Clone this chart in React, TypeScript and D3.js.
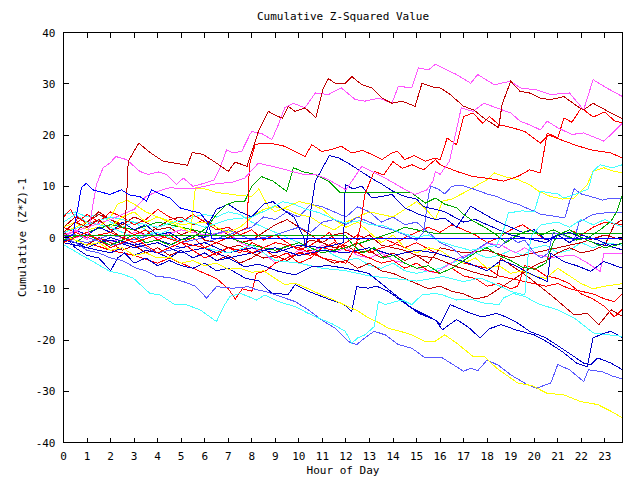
import React from 'react';
import * as d3 from 'd3';

type P = [number, number];

const title = 'Cumulative Z-Squared Value';
const xLabel = 'Hour of Day';
const yLabel = 'Cumulative (Z*Z)-1';
const xTicks: number[] = d3.range(0, 24);
const yTicks: number[] = [-40, -30, -20, -10, 0, 10, 20, 30, 40];

const darkRedTop: P[] = [[0,1],[0.5,3],[1,2],[1.5,3.5],[2,1.5],[2.6,-0.4],[2.75,14.9],[3.2,18.4],[3.7,16.5],[4.23,14.9],[4.73,14.5],[5.27,14.1],[5.47,16.6],[5.94,16.2],[6.5,14.5],[7.0,12.9],[7.29,14.7],[7.8,13.9],[8.28,20.7],[8.7,24.6],[9.13,23.6],[9.3,23.3],[9.55,25.6],[9.84,24.6],[10.26,25.3],[10.72,23.4],[11.04,29.2],[11.26,31],[11.54,30.1],[11.97,30.1],[12.25,31.4],[12.68,29.8],[13.1,29.2],[13.53,27.2],[13.95,26.2],[14.38,26.6],[14.94,25.6],[15.23,30.1],[15.8,29.2],[16.0,29.2],[16.43,27.9],[17.0,25.6],[17.43,24.9],[17.86,23.3],[18.49,21.4],[18.63,25.9],[19.0,30.5],[19.4,28.5],[19.8,28.2],[20.26,27.2],[20.7,26.9],[21.26,27.5],[21.83,25.6],[22.1,24.9],[22.5,26.2],[23.26,24.3],[23.75,23.2]];
const magentaTop: P[] = [[0,0],[0.5,1.5],[1.0,-0.5],[1.25,6.4],[1.4,10.3],[1.68,13.6],[1.97,14.5],[2.22,15.8],[2.68,15.2],[3.24,12.9],[3.6,12.3],[4.02,12.8],[4.38,12.3],[4.8,10.3],[5.09,11.6],[5.5,10.0],[6.0,10.6],[6.4,11.2],[6.65,13.6],[6.93,17.1],[7.2,16.5],[7.57,16.8],[7.92,20.1],[8.0,20.7],[8.45,20.2],[8.85,19.1],[9.13,22.0],[9.4,25.3],[9.77,26.2],[10.26,25.3],[10.7,28.2],[11.26,27.9],[11.8,29.2],[12.4,26.9],[12.8,26.6],[13.4,27.2],[13.95,26.2],[14.23,29.5],[14.8,29.2],[15.08,33.1],[15.5,32.7],[15.8,33.8],[16.1,33.1],[16.7,31.8],[17.3,30.1],[17.6,31.8],[18.3,29.8],[19.0,30.5],[19.4,29.2],[20.1,28.8],[20.7,27.9],[21.5,28.2],[22.1,24.9],[22.5,30.8],[23.07,29.2],[23.75,27.5]];
const magentaMid: P[] = [[0,0.5],[1,2],[2,3.5],[3,5.5],[3.5,8],[4,9],[4.5,9.7],[5.5,9.5],[6.5,10.5],[7.2,10.8],[7.7,11.6],[8.28,14.5],[9.13,13.6],[9.7,12.9],[10.2,12.3],[10.7,12.3],[11.26,11.3],[12,9.3],[12.68,13.9],[13.1,12.9],[13.67,11.6],[14.38,9.7],[14.94,8.4],[15.44,9.3],[15.7,11],[15.8,12.9],[16.0,12.3],[16.4,14.9],[16.9,25.3],[17.4,24.6],[17.86,26.2],[18.4,25.3],[19.0,24.3],[19.4,22.7],[19.8,22.0],[20.26,21.0],[20.55,22.7],[21.0,21.4],[21.6,20.1],[22.1,20.4],[22.96,18.8],[23.4,20.7],[23.75,22.3]];
const redHigh: P[] = [[0,2],[1,0],[2,1],[3,-1],[4,0.5],[5,-1],[6,-2],[7,0],[7.8,2],[7.9,14.2],[8.14,18.1],[8.4,18.4],[8.9,18.3],[9.4,17.8],[9.84,16.8],[10.26,15.8],[10.55,18.1],[10.97,16.8],[11.4,17.2],[11.8,17.8],[12.25,16.5],[12.7,17],[13.1,16.2],[13.53,15.2],[13.95,16.5],[14.2,16.8],[14.5,15.2],[14.9,16],[15.37,14.9],[15.8,15.5],[16.0,15.2],[16.3,19.4],[16.7,18.1],[17.0,23.6],[17.4,24.3],[17.8,22.3],[18.1,23.6],[18.5,22.0],[19.0,21.5],[19.6,20.7],[20.26,18.4],[20.6,20.0],[21.0,19.3],[21.7,18.1],[22.4,17.1],[23.26,16.5],[23.75,15.5]];
const redLate: P[] = [[0,-1],[1,1],[2,-2],[3,0],[4,-3],[5,-1],[6,-4],[7,-2],[8,-3],[9,-1],[10,-2],[11,-4],[12,-5],[12.4,-2],[12.6,1.9],[12.8,8.4],[13.2,12.9],[13.6,12.2],[14.0,14.8],[14.4,13.5],[14.8,14.2],[15.3,13.2],[15.8,15.2],[16,14.2],[16.7,12.9],[17.4,11.9],[18.1,11.5],[18.7,11.0],[19.3,11.9],[19.8,13.2],[20.26,12.6],[20.55,20.4],[21.0,19.4],[21.26,23.3],[21.6,22.5],[22.0,25.3],[22.5,23.5],[23.0,24.5],[23.4,22.8],[23.75,22.3]];
const cyanLow: P[] = [[0,-1.4],[0.6,-3],[1.25,-4.7],[1.97,-6.6],[2.4,-7.0],[2.96,-7.9],[3.67,-10.9],[4.1,-11.2],[4.73,-13.1],[5.2,-13.1],[5.8,-14.1],[6.5,-16.4],[6.8,-13.5],[7.07,-11.5],[7.5,-10.9],[7.85,-11.5],[8.2,-12.2],[8.56,-11.2],[9.13,-12.5],[9.84,-13.5],[10.4,-14.8],[10.83,-15.7],[11.4,-16.8],[11.97,-18.3],[12.25,-20.6],[12.5,-19.6],[12.8,-19.0],[13.2,-17.4],[13.38,-12.5],[13.67,-13.1],[14.1,-12.5],[14.4,-12.2],[14.8,-13.1],[15.23,-11.2],[15.8,-10.9],[16.1,-11.2],[16.7,-12.2],[17.3,-12.0],[17.86,-12.8],[18.5,-13.1],[18.7,-11.8],[19.1,-10.9],[19.6,-11.5],[20.2,-13.0],[21.0,-14.1],[21.7,-15.7],[22.5,-18.6],[23.0,-18.9],[23.75,-19.3]];
const cyanJump: P[] = [[0,3],[0.5,4.5],[1,3],[2,2],[3,0],[4,1],[5,-1],[6,-2],[7,-3],[8,-1.5],[9,-4.5],[10,-5],[11,-6],[12,-6.5],[13,-7.5],[14,-8.0],[15,-8.5],[15.8,-7.9],[16.1,-7.6],[17,-8.6],[17.7,-7.9],[18.4,-9.2],[19,-10.5],[19.6,-11.2],[19.75,-3],[19.9,0.5],[20.3,2.5],[21,3],[21.5,2],[22,3.5],[22.5,2.5],[23,3.5],[23.75,2]];
const cyanMid: P[] = [[0,1],[1,2.5],[2,4],[3,3],[4,2],[5,3.5],[6,2],[7,3.5],[8,4],[8.7,5.5],[9.3,7],[9.8,6.5],[10.3,5.5],[10.9,4.8],[11.5,3.5],[12,2.8],[12.6,3.3],[13,2.5],[13.6,2.3],[14.3,1],[15,0],[15.5,0.5],[16,-0.8],[16.7,-1.8],[17.3,-2.5],[17.9,-2],[18.4,-1.5],[18.7,1.5],[18.9,4.8],[19.5,5.2],[20,5],[20.26,9.0],[21,8.5],[21.26,7.7],[21.8,8.5],[22.3,9.5],[22.5,12.9],[22.8,14.2],[23.3,13.6],[23.75,14.2]];
const cyanEarly: P[] = [[0,4.5],[0.5,5],[1,4],[1.5,4.5],[2,3],[2.5,2],[3,3],[3.5,1.5],[4,0.5],[4.5,1.5],[5,3],[5.5,4],[6,4.5],[6.5,4],[7,5],[7.5,4.5],[8,3],[8.5,2],[9,1],[9.5,0],[10,-1],[10.5,-2.5],[11,-2],[11.5,-3.5],[12,-4.5],[12.5,-4],[13,-5.5],[13.5,-6],[14,-5],[14.5,-6.5],[15,-7],[15.5,-6.5],[16,-6],[16.5,-5],[17,-4],[17.5,-3],[18,-4],[18.5,-3.5],[19,-2.5],[19.5,-3.5],[20,-2],[20.5,-1.5],[21,-3],[21.5,-2.5],[22,-1],[22.5,-2],[23,-1],[23.75,-1.5]];
const yellowLow: P[] = [[0,0.5],[0.5,-0.5],[1,-1.5],[1.5,-1],[2,-2.5],[2.5,-2],[3,-3.5],[3.5,-3],[4,-4],[4.5,-3.8],[5,-5],[5.5,-4.5],[6,-5.5],[6.5,-5],[7,-6.2],[7.5,-6],[8,-6.8],[8.5,-6.5],[9,-8],[9.4,-9.2],[9.84,-8.9],[10.4,-10],[10.97,-11.2],[11.5,-12.2],[12.1,-13.5],[12.5,-14.3],[12.96,-15.7],[13.4,-16.6],[13.8,-17.7],[14.3,-18.3],[14.8,-19.0],[15.37,-20.3],[15.8,-20.2],[16.2,-19.0],[16.7,-20.6],[17.4,-23.2],[17.9,-23.3],[18.4,-25.5],[19.3,-28.4],[19.9,-28.9],[20.55,-30.4],[21.26,-30.7],[21.96,-32.0],[22.7,-32.6],[23.26,-33.9],[23.75,-35.2]];
const periLow: P[] = [[0,0],[0.5,-1],[1,-2.5],[1.5,-3],[2,-4],[2.5,-4.5],[3.1,-6.0],[3.5,-6.5],[3.95,-7.6],[4.5,-7.8],[5.09,-8.6],[5.6,-9.5],[6.08,-11.8],[6.5,-9.6],[7.2,-9.9],[7.85,-9.6],[8.2,-10.2],[8.56,-10.5],[9.2,-11.5],[9.84,-12.5],[10.4,-14.1],[10.97,-16.1],[11.54,-17.7],[12.1,-20.3],[12.46,-20.9],[12.8,-19.6],[13.2,-18.3],[13.67,-19.0],[14.23,-20.9],[14.8,-21.6],[15.37,-23.5],[15.8,-23.4],[16.1,-23.5],[17.0,-26.1],[17.3,-25.5],[17.6,-26.0],[18.0,-23.9],[18.5,-25],[19.0,-26.8],[19.7,-28.7],[20.1,-29.4],[20.7,-28.4],[21.0,-24.8],[21.5,-25.8],[22.1,-28.1],[22.3,-25.8],[22.9,-26.2],[23.3,-27],[23.75,-27.6]];
const navyA: P[] = [[0,0],[0.5,-1],[1,-2],[1.5,-2.5],[2,-3],[2.5,-2],[3,-3.5],[3.5,-2.5],[4,-3],[4.5,-4],[5,-2.5],[5.5,-4],[6,-3],[6.5,-4.5],[7,-4],[7.7,-5.7],[8.3,-5.2],[9.13,-6.6],[9.84,-7.3],[10.55,-5.7],[11.26,-5.5],[12,-6.0],[12.5,-6.5],[12.96,-7.0],[13.4,-8.6],[14.1,-11.2],[14.8,-13.8],[15.37,-15.1],[15.8,-16.1],[16.0,-17.0],[16.43,-13.1],[16.9,-14],[17.3,-14.8],[17.8,-15.5],[18.4,-14.8],[18.8,-15.5],[19.3,-16.7],[19.8,-18.3],[20.5,-19.6],[21.26,-21.9],[22.1,-24.5],[22.4,-24.8],[22.7,-23.5],[23.26,-24.5],[23.75,-25.8]];
const navyB: P[] = [[0,0.5],[0.5,-2],[1,-3.5],[1.5,-4],[2,-6.5],[2.3,-4],[2.6,-3],[3,-5],[3.5,-4],[4,-5.5],[4.5,-4.5],[5,-5.5],[5.5,-6],[6,-5],[6.5,-6.5],[7,-6],[7.7,-7.9],[8.3,-8.5],[8.85,-10.9],[9.55,-11.1],[9.84,-9.2],[10.4,-10.5],[10.97,-11.5],[11.54,-12.5],[11.9,-13],[12.25,-14.4],[12.46,-9.6],[12.96,-9.9],[13.3,-9.5],[13.8,-10.5],[14.4,-12.5],[15.1,-14.8],[15.8,-16.1],[16.1,-18],[16.7,-16],[17.2,-17.5],[17.7,-19.6],[18.1,-17.8],[18.6,-17],[19.2,-18],[20.0,-19.0],[20.6,-20.5],[21.2,-22.3],[21.8,-24.5],[22.25,-25.2],[22.5,-19.6],[22.9,-18.8],[23.26,-18.3],[23.75,-19.6]];
const blueFlat: P[] = [[0,0],[0.4,0.5],[0.76,9.7],[0.97,10.6],[1.25,9.3],[1.97,8.4],[2.46,9.3],[2.8,8.3],[3.24,8.0],[3.53,7.1],[3.74,9.3],[4.1,8.5],[4.52,7.7],[4.94,5.8],[5.4,5.2],[5.8,4.8],[6.08,3.2],[6.2,1.9],[6.3,-0.1],[23.75,-0.1]];
const navyPeak: P[] = [[0,0],[0.5,1.5],[1,0.5],[1.5,2],[2,1],[2.5,3],[3,1.5],[3.5,2.5],[4,0.5],[4.5,1],[5,-0.5],[5.5,0.5],[6.0,0],[6.2,3],[6.5,5.5],[7,6.5],[7.5,5],[8,4],[8.5,6.5],[8.9,7],[9.3,5.5],[9.8,4],[10.2,0],[10.3,-2],[10.5,5],[10.7,11],[11.0,13.5],[11.3,16.0],[11.7,15.5],[12.1,14.5],[12.6,13],[13.1,11.5],[13.5,10.5],[14,9],[14.5,8],[15,7.5],[15.3,6],[15.8,5.5],[16.2,5],[16.6,4],[17,3],[17.5,3.5],[18,2.5],[18.5,1.5],[19,0.5],[19.5,0],[20,-0.5],[20.5,-1],[21,0.5],[21.5,1],[22,0],[22.5,-1],[23,-1.5],[23.75,-2.4]];
const navyJump: P[] = [[0,-1],[1,-2],[2,0],[3,-1.5],[4,-0.5],[5,-2],[6,-1],[7,-3],[8,-2],[9,-3],[10,-1.5],[11,-2],[11.9,-1],[11.97,10.3],[12.3,9.5],[12.68,10.0],[13.1,7.7],[13.5,8.0],[13.95,8.4],[14.5,5.8],[15.1,4.5],[15.8,3.5],[16.2,3.8],[16.7,2.0],[17.3,6.1],[17.8,4.8],[18.4,3.2],[19,2],[19.5,1],[20,1.5],[20.5,-0.5],[21,0.5],[21.5,-1],[22,0.5],[22.7,-0.5],[23.2,-1.5],[23.75,-1.2]];
const navyLate: P[] = [[0,-0.5],[1,-1.5],[2,-0.5],[3,-2],[4,-1],[5,-3],[6,-2],[7,-4],[8,-3],[9,-2],[10,-3.5],[11,-2.5],[12,-3],[13,-2],[14,-3.5],[15,-2.5],[15.8,-3],[16.5,-4],[17.2,-5],[18,-6.5],[18.6,-4.4],[19.2,-5.5],[19.8,-7],[20.55,-8.6],[20.7,-3.1],[21.26,-4.7],[21.8,-5.5],[22.4,-6.6],[22.96,-4.7],[23.75,-6.0]];
const periHigh: P[] = [[0,0],[1,-1],[2,0.5],[3,-0.5],[4,1],[5,-1],[6,0],[7,1.5],[8,-0.5],[9,0.5],[10,2],[10.5,1],[11,3],[11.5,3.5],[12,2.5],[12.5,4],[13,3],[13.5,2],[14,1.5],[14.5,0.5],[15,-0.5],[15.3,1],[15.5,8],[15.6,10],[15.9,9.5],[16.2,8.5],[16.5,10],[16.9,10.2],[17.4,9.5],[18,8.5],[18.4,8],[18.9,7],[19.3,6.5],[19.8,5.5],[20.3,4.5],[20.8,4.2],[21.3,3.8],[21.5,7],[21.7,9.5],[22.0,8.5],[22.4,8.0],[22.9,7.3],[23.3,7.7],[23.75,7.7]];
const periMid: P[] = [[0,1],[1,0],[2,-1.5],[3,-1],[4,-3],[5,-2],[6,-1],[7,0.5],[8,2],[8.5,4],[9,3.5],[9.5,5],[10,4],[10.5,6.5],[11,6],[11.5,5],[12,4],[12.5,6],[13,5],[13.5,3],[14,4],[14.5,2.5],[15,3],[15.5,1],[16,-1],[16.5,-2],[17,-4],[17.5,-2.5],[18,-1],[18.5,-2],[19,0],[19.3,-1],[19.6,-0.5],[20,-3],[20.3,-4],[20.6,-3],[20.8,1],[21.2,0.5],[21.7,-0.5],[21.9,3],[22.5,4.5],[23,4.8],[23.75,4.8]];
const yellowHigh: P[] = [[0,1],[1,3],[2,2],[2.5,4],[3,5],[3.5,3],[4,4],[5,2.5],[6,3],[7,1],[7.5,2],[8,4],[8.5,5.5],[9,6],[9.5,5.5],[10,4.5],[10.5,4],[11,2.5],[11.5,1.5],[12,3],[12.5,4],[13,5],[13.5,4.5],[14,4],[14.5,5.5],[15,7],[15.4,5.5],[15.8,3.5],[16.1,7.1],[16.5,7.5],[17,8.7],[17.5,10],[18,11.3],[18.3,12.6],[18.8,11.8],[19.3,11.3],[19.8,10.3],[20.2,9],[20.7,8.0],[21.2,7.5],[21.7,7.7],[22.25,10.3],[22.5,12.9],[22.96,13.6],[23.3,13],[23.75,12.6]];
const yellowEarly: P[] = [[0,2],[0.5,3],[1,1.5],[1.5,2],[2,4],[2.3,6.5],[2.7,7.3],[3,6.5],[3.5,5],[4,4],[4.5,3],[5,2],[5.4,1],[5.6,9.7],[6,9.5],[6.5,8.8],[7,8.5],[7.5,8.2],[8,8],[8.3,9.5],[8.7,6],[9,5],[9.5,6],[10,7],[10.5,6.5],[11,5.5],[11.5,3.5],[12,2],[12.5,3],[13,1],[13.5,-1],[14,0.5],[14.5,-2],[15,-3],[15.5,-2],[16,-2.5],[16.5,-4],[17,-5],[17.5,-4],[18,-6],[18.5,-5.5],[19,-7],[19.5,-6.5],[20,-7.5],[20.5,-8],[21,-6],[21.5,-7.5],[22,-9],[22.5,-10],[23,-9.5],[23.75,-9]];
const greenMid: P[] = [[0,0],[0.5,-1],[1,0.5],[1.5,-0.5],[2,-1.5],[2.5,-0.5],[3,0.5],[3.5,-1],[4,-0.5],[4.5,-1.5],[5,-0.5],[5.5,0],[6.08,1.9],[6.5,4.5],[6.93,6.4],[7.3,7],[7.7,7.1],[8.0,10],[8.4,11.9],[8.9,11],[9.48,9.0],[9.77,13.6],[10.2,12.8],[10.7,12.3],[11.26,11.0],[11.75,8.8],[14.76,8.8],[15.37,6.7],[15.8,7.7],[16.2,6.5],[16.7,5.8],[17.0,4.5],[17.4,3.2],[17.9,2],[18.4,0.5],[18.8,-1],[19.3,0.5],[19.8,1.5],[20.3,0.5],[20.8,1.5],[21.3,0.5],[21.8,-0.5],[22.3,0],[22.8,1.5],[23.26,3.2],[23.5,5],[23.75,8.4]];
const greenFlatEarly: P[] = [[0,0.3],[12,0.3],[12.3,-1.5],[12.7,-3],[13.2,-2],[13.6,-4],[14,-3.5],[14.5,-5],[15,-6],[15.5,-5.5],[16,-7],[16.5,-6],[17,-4.5],[17.5,-3],[18,-2],[18.5,-3.5],[19,-4.5],[19.5,-5.8],[20,-6.2],[20.5,-5],[20.8,-1],[21,0.5],[21.5,1.5],[22,0],[22.5,-1],[23,-2],[23.5,-1.5],[23.75,-1]];
const greenFlatLate: P[] = [[0,-0.5],[1,1],[2,2.5],[3,1.5],[4,3],[5,2],[6,1],[7,0],[8,-1.5],[9,-2.5],[10,-1],[11,-3],[12,-2],[13,-0.5],[14,1],[14.5,2],[15,1.5],[15.5,1],[15.8,0.8],[23.75,0.8]];
const darkRedLow: P[] = [[0,1],[0.5,-0.5],[1,-1.5],[1.5,0],[2,-1],[2.5,-2.5],[3,-1.5],[3.5,-3],[4,-2],[4.5,-3.5],[5,-2.5],[5.5,-4],[6,-3],[6.5,-4.5],[7,-3.5],[7.5,-5],[8,-4],[8.5,-2.5],[9,-3],[9.5,-1.5],[10,-2],[10.5,-0.5],[11,-1],[11.5,0.5],[12,1],[12.5,-0.5],[13,0.5],[13.5,-1.5],[14,-2],[14.5,-2.5],[15,-3.5],[15.8,-4.0],[16.7,-5.7],[17.6,-7.0],[18.4,-7.9],[18.56,-4.0],[19.2,-6],[19.8,-7.9],[20.7,-11.2],[21.7,-15.1],[22.25,-14.8],[22.75,-17.0],[23.26,-14.1],[23.75,-15.4]];
const redLowRight: P[] = [[0,3],[0.5,4.5],[1,2.5],[1.5,3.5],[2,1.5],[2.5,2],[3,0.5],[3.5,1.5],[4,-0.5],[4.5,0.5],[5,-1],[5.5,0],[6,-2],[6.5,-3.5],[7,-2],[7.5,-3],[8,-1],[8.5,-2],[9,-4],[9.5,-3],[10,-5],[10.5,-4],[11,-2],[11.5,-2.5],[12,-1],[12.5,0.5],[13,-0.5],[13.5,0],[14,-1],[14.5,-2],[15,-1],[15.8,-3.0],[16.5,-4],[17,-5],[17.5,-5.5],[18,-6],[18.5,-7.5],[19,-8],[19.5,-8.5],[20,-9],[20.5,-9.5],[21,-9],[21.5,-10],[22,-10.5],[22.5,-11],[23,-12],[23.4,-12.5],[23.75,-10.9]];
const redDip: P[] = [[0,0],[1,-1],[2,-2.5],[3,-3.5],[4,-5],[4.5,-4],[5,-5],[5.5,-6],[6,-7],[6.5,-8],[7,-10],[7.3,-12],[7.6,-10],[8,-10.5],[8.2,-7],[8.6,-6.5],[9,-5],[9.5,-4],[10,-3],[10.5,-3.5],[11,-2],[11.5,-1],[12,-2.5],[12.5,-3],[13,-4],[13.5,-5],[14,-4.5],[14.5,-6],[15,-5],[15.5,-6.5],[16,-7],[16.5,-6],[17,-7.5],[17.5,-8],[18,-9.5],[18.5,-9],[19,-10],[19.3,-9.5],[19.6,-5.5],[20,-6],[20.5,-7.5],[21,-8],[21.5,-9],[22,-11],[22.5,-12],[23,-13.5],[23.4,-15.5],[23.75,-14]];
const magentaLow: P[] = [[0,-0.5],[1,0.5],[2,-1],[3,1],[4,0],[5,1.5],[6,0.5],[7,1],[7.5,-1],[8,-2],[8.5,-3],[9,-5],[9.5,-4],[10,-2.5],[10.5,-3],[11,-1.5],[11.5,-3],[12,-2],[12.5,-3.5],[13,-4],[13.5,-3],[14,-4.5],[14.5,-5],[15,-6],[15.8,-6.9],[16.3,-5.5],[16.8,-4],[17.4,-3],[18,-1.1],[18.6,-1.5],[19.2,-3],[19.6,-2],[20.1,-3.4],[20.7,-3.9],[21.3,-3.6],[21.7,-3.5],[22.2,-4.8],[22.8,-6.6],[22.96,-3.1],[23.75,-3.1]];
const darkRedEarly: P[] = [[0,2],[0.5,4],[1,3],[1.5,5],[2,3.5],[2.5,2.5],[3,4],[3.5,3],[4,1.5],[4.5,2],[5,0.5],[5.5,1.5],[6,-0.5],[6.5,-1],[7,-2],[7.5,-1.5],[8,-3],[8.5,-4],[9,-3.5],[9.5,-4.5],[10,-3],[10.5,-2.5],[11,-4],[11.5,-5],[12,-4.5],[12.5,-6],[13,-5],[13.5,-6.5],[14,-7],[14.5,-8],[15,-9],[15.5,-10],[16,-9.5],[16.5,-10.5],[17,-11],[17.5,-12],[18,-11.5],[18.5,-10],[19,-8.5],[19.5,-7],[20,-5.5],[20.5,-4.5],[21,-3],[21.5,-2],[22,-3],[22.5,-2.5],[23,-1.5],[23.4,2.5],[23.75,3.5]];
const redEarly: P[] = [[0,4],[0.3,5.5],[0.6,3],[1,4.5],[1.5,3],[2,5],[2.5,4],[3,2.5],[3.5,3.5],[4,5.5],[4.5,4],[5,3],[5.5,4.5],[6,3],[6.5,1.5],[7,2],[7.5,0.5],[8,1.5],[8.5,-0.5],[9,0.5],[9.5,-1],[10,-2.5],[10.5,-1.5],[11,0],[11.3,1],[11.6,-1],[12,-2],[12.5,-1],[13,-3],[13.5,-2],[14,-1.5],[14.5,0],[15,1],[15.5,2],[16,1],[16.5,2.5],[17,1.5],[17.5,0.5],[18,-1],[18.5,0],[19,1.5],[19.5,2.5],[20,1],[20.5,-0.5],[21,0.5],[21.5,1.5],[22,0.5],[22.5,2],[23,3],[23.75,2.5]];
const darkRedWander: P[] = [[0,-1],[0.5,1],[1,3],[1.5,4.5],[2,3.5],[2.5,2],[3,1.5],[3.5,0.5],[4,2],[4.5,3.5],[5,4],[5.5,2.5],[6,3.5],[6.5,2],[7,0.5],[7.5,-1],[8,-0.5],[8.5,1],[9,2.5],[9.5,3.5],[10,2],[10.5,0.5],[11,-1],[11.5,-2],[12,-1.5],[12.5,-3],[13,-2.5],[13.5,-4],[14,-3],[14.5,-4.5],[15,-3.5],[15.5,-5],[16,-2],[17,-3],[18,-2.5],[19,-4],[20,-3],[21,-2],[22,-1],[23,0.5],[23.75,-0.5]];

const RED = '#ff0000';
const DARKRED = '#c00000';
const MAGENTA = '#ff55ff';
const CYAN = '#44ffff';
const YELLOW = '#ffff00';
const PERI = '#5858ff';
const NAVY = '#0000c8';
const BLUE = '#0000ff';
const GREEN = '#00a800';

const series: { color: string; data: P[] }[] = [
  { color: CYAN, data: cyanEarly },
  { color: DARKRED, data: darkRedWander },
  { color: RED, data: redEarly },
  { color: DARKRED, data: darkRedEarly },
  { color: MAGENTA, data: magentaLow },
  { color: RED, data: redDip },
  { color: RED, data: redLowRight },
  { color: DARKRED, data: darkRedLow },
  { color: GREEN, data: greenFlatLate },
  { color: PERI, data: periMid },
  { color: YELLOW, data: yellowEarly },
  { color: YELLOW, data: yellowHigh },
  { color: PERI, data: periHigh },
  { color: NAVY, data: navyLate },
  { color: NAVY, data: navyJump },
  { color: NAVY, data: navyPeak },
  { color: GREEN, data: greenMid },
  { color: CYAN, data: cyanMid },
  { color: CYAN, data: cyanJump },
  { color: NAVY, data: navyB },
  { color: NAVY, data: navyA },
  { color: PERI, data: periLow },
  { color: YELLOW, data: yellowLow },
  { color: CYAN, data: cyanLow },
  { color: RED, data: redLate },
  { color: RED, data: redHigh },
  { color: MAGENTA, data: magentaMid },
  { color: MAGENTA, data: magentaTop },
  { color: DARKRED, data: darkRedTop },
  { color: GREEN, data: greenFlatEarly },
  { color: BLUE, data: blueFlat },
];

export default function App() {
  const left = 63.5, right = 622.5, top = 32.5, bottom = 442.5;
  const x = d3.scaleLinear().domain([0, 23.75]).range([left, right]);
  const y = d3.scaleLinear().domain([-40, 40]).range([bottom, top]);
  const line = d3.line<P>().x(d => x(d[0])).y(d => y(d[1]));
  const font = "'DejaVu Sans Mono', monospace";
  return (
    <svg width={640} height={480} style={{ position: 'absolute', left: 0, top: 0, background: '#fff' }}
      fontFamily={font} fontSize={11}>
      <rect x={0} y={0} width={640} height={480} fill="#fff" />
      <g>
        {series.map((s, i) => (
          <path key={i} d={line(s.data) || ''} fill="none" stroke={s.color} strokeWidth={1} shapeRendering="crispEdges" />
        ))}
      </g>
      <g stroke="#000" strokeWidth={1} shapeRendering="crispEdges">
        {xTicks.map(t => (
          <g key={t}>
            <line x1={x(t)} x2={x(t)} y1={bottom} y2={bottom - 5} />
            <line x1={x(t)} x2={x(t)} y1={top} y2={top + 5} />
          </g>
        ))}
        {yTicks.map(t => (
          <g key={t}>
            <line x1={left} x2={left + 5} y1={y(t)} y2={y(t)} />
            <line x1={right} x2={right - 5} y1={y(t)} y2={y(t)} />
          </g>
        ))}
        <rect x={left} y={top} width={right - left} height={bottom - top} fill="none" />
      </g>
      <g fill="#000">
        {xTicks.map(t => (
          <text key={t} x={x(t)} y={bottom + 17} textAnchor="middle">{t}</text>
        ))}
        {yTicks.map(t => (
          <text key={t} x={left - 8} y={y(t) + 4} textAnchor="end">{t}</text>
        ))}
        <text x={(left + right) / 2} y={20} textAnchor="middle">{title}</text>
        <text x={(left + right) / 2} y={474} textAnchor="middle">{xLabel}</text>
        <text transform={`translate(26,${(top + bottom) / 2}) rotate(-90)`} textAnchor="middle">{yLabel}</text>
      </g>
    </svg>
  );
}
